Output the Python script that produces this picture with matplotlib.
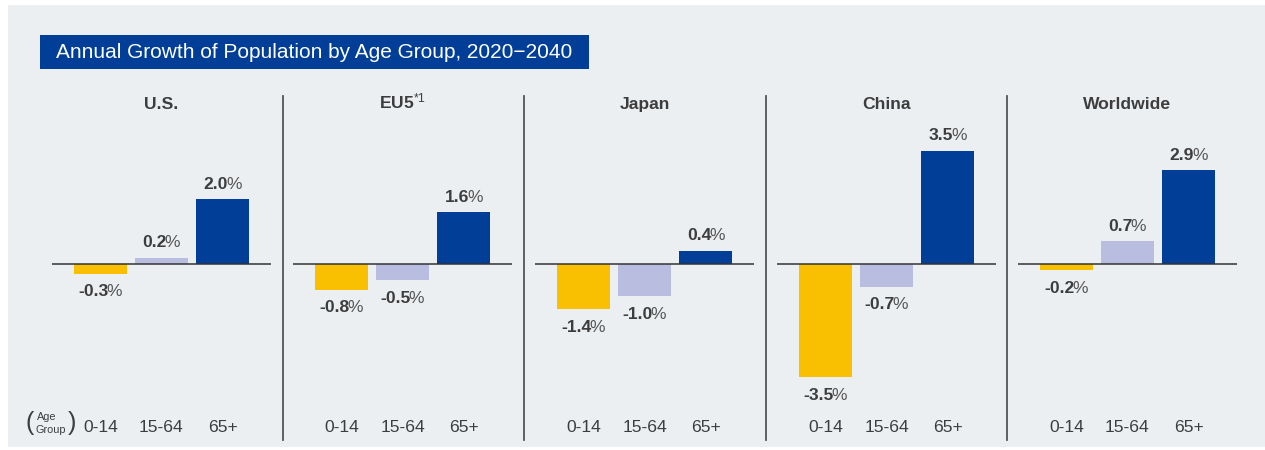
import matplotlib
matplotlib.use("Agg")
import matplotlib.pyplot as plt
from matplotlib.patches import Rectangle
from matplotlib.lines import Line2D

plt.rcParams['font.family'] = ['Liberation Sans', 'DejaVu Sans']
plt.rcParams['mathtext.fontset'] = 'custom'
plt.rcParams['mathtext.rm'] = 'Liberation Sans'
plt.rcParams['mathtext.it'] = 'Liberation Sans:italic'
plt.rcParams['mathtext.bf'] = 'Liberation Sans:bold'

regions = ['U.S.', 'EU5*1', 'Japan', 'China', 'Worldwide']
age_groups = ['0-14', '15-64', '65+']
growth_0_14 = [-0.3, -0.8, -1.4, -3.5, -0.2]
growth_15_64 = [0.2, -0.5, -1.0, -0.7, 0.7]
growth_65_plus = [2.0, 1.6, 0.4, 3.5, 2.9]
colors = ['#f8c000', '#b9bde0', '#003e97']

W, H = 1265, 450
BG = '#eceff2'
TXT = '#3d3d3d'


def fx(x):
    return x / W


def fy(y):
    return 1 - y / H


fig = plt.figure(figsize=(W / 100, H / 100), dpi=100, facecolor='white')
renderer = fig.canvas.get_renderer()

# grey panel background
fig.add_artist(Rectangle((fx(8), fy(447)), fx(1265) - fx(8), fy(5) - fy(447),
                         transform=fig.transFigure, facecolor=BG, edgecolor='none', zorder=0))

# title box
fig.add_artist(Rectangle((fx(40), fy(69)), fx(589) - fx(40), fy(35) - fy(69),
                         transform=fig.transFigure, facecolor='#003e97', edgecolor='none', zorder=1))
fig.text(fx(56), fy(52.5), 'Annual Growth of Population by Age Group, 2020\u22122040',
         color='white', fontsize=15, ha='left', va='center', zorder=2)

ax_left = [52, 293, 535, 777, 1018]
ax_w = 219
top_px, bot_px = 120, 400
zero_px = 264
px_per_pct = 32.3
ymax = (zero_px - top_px) / px_per_pct
ymin = -(bot_px - zero_px) / px_per_pct


def value_label(ax, x, v):
    # bold number followed by a lighter percent sign, centred over the bar
    off = 11 if v >= 0 else -13
    num = f'{v:.1f}'
    t_num = ax.annotate(num, (x, v), xytext=(0, off), textcoords='offset points',
                        ha='right', va='center', fontsize=12.6, fontweight='bold', color=TXT)
    t_pct = ax.annotate('%', (x, v), xytext=(0, off), textcoords='offset points',
                        ha='left', va='center', fontsize=12.6, color='#555555')
    w_num = t_num.get_window_extent(renderer).width * 0.72
    w_pct = t_pct.get_window_extent(renderer).width * 0.72
    dx = (w_num - w_pct) / 2
    t_num.set_position((dx + 0.8, off))
    t_pct.set_position((dx - 0.8, off))


for i, region in enumerate(regions):
    ax = fig.add_axes([fx(ax_left[i]), fy(bot_px), ax_w / W, (bot_px - top_px) / H])
    ax.patch.set_visible(False)
    vals = [growth_0_14[i], growth_15_64[i], growth_65_plus[i]]
    xs = range(len(age_groups))
    ax.bar(xs, vals, width=0.87, color=colors, zorder=2)
    ax.axhline(0, color='#333333', lw=1.1, zorder=3)
    ax.set_xlim(-0.79, 2.79)
    ax.set_ylim(ymin, ymax)
    for s in ax.spines.values():
        s.set_visible(False)
    ax.set_yticks([])
    ax.set_xticks(list(xs))
    ax.set_xticklabels(age_groups, fontsize=12.6, color=TXT)
    ax.tick_params(axis='x', length=0, pad=14.5)

    for x, v in zip(xs, vals):
        value_label(ax, x, v)

    if region == 'EU5*1':
        ax.set_title(r'EU5$^{*1}$', fontsize=12.6, fontweight='bold', color=TXT, pad=8)
    else:
        ax.set_title(region, fontsize=12.6, fontweight='bold', color=TXT, pad=8)

# dividers between panels
for xd in [283, 524, 766, 1007]:
    fig.add_artist(Line2D([fx(xd), fx(xd)], [fy(96), fy(440)], transform=fig.transFigure,
                          color='#555555', lw=1.3))

# "(Age Group)" note
fig.text(fx(37), fy(417), 'Age', fontsize=7.8, color=TXT, ha='left', va='center')
fig.text(fx(36), fy(430), 'Group', fontsize=7.8, color=TXT, ha='left', va='center')
fig.text(fx(30), fy(423), '(', fontsize=18, color=TXT, ha='center', va='center')
fig.text(fx(72), fy(423), ')', fontsize=18, color=TXT, ha='center', va='center')

fig.savefig('out.png', dpi=100, facecolor='white')
